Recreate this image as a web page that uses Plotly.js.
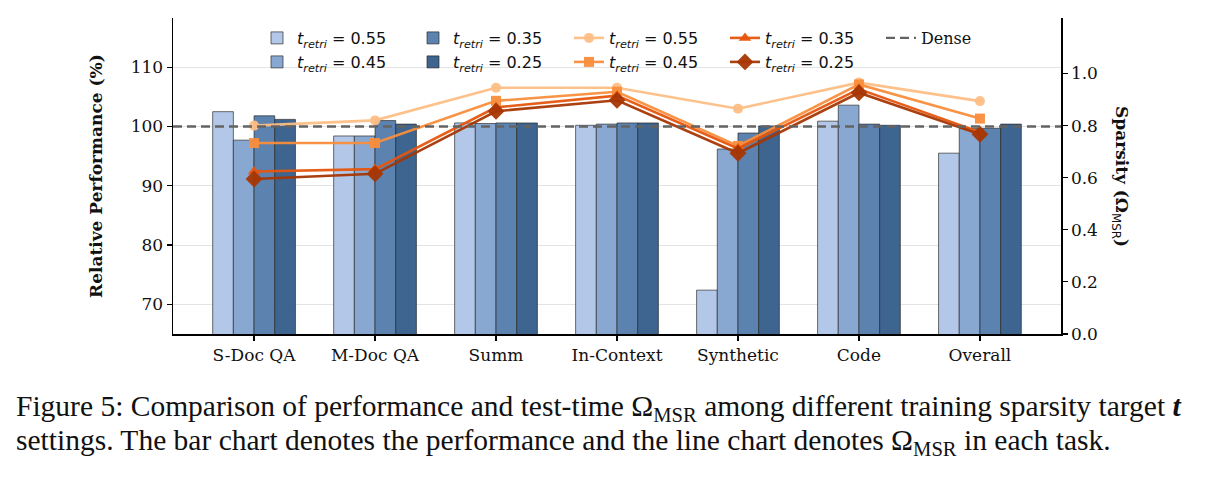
<!DOCTYPE html>
<html>
<head>
<meta charset="utf-8">
<script src="https://cdn.plot.ly/plotly-3.0.1.min.js"></script>
<style>
  html, body { margin: 0; padding: 0; background: #ffffff; }
  #chart { width: 1218px; height: 482px; }
</style>
</head>
<body>
<div id="chart"></div>
<script>
// ---------- data ----------
const CATEGORIES = ['S-Doc QA', 'M-Doc QA', 'Summ', 'In-Context', 'Synthetic', 'Code', 'Overall'];

// Relative performance (%) — bars
const PERF_055 = [102.5, 98.4, 100.6, 100.2, 72.4, 100.9, 95.5];
const PERF_045 = [97.7, 98.4, 100.5, 100.4, 96.2, 103.6, 99.7];
const PERF_035 = [101.8, 101.0, 100.6, 100.6, 98.9, 100.4, 99.7];
const PERF_025 = [101.2, 100.4, 100.6, 100.6, 100.1, 100.2, 100.4];

// Sparsity (Omega_MSR) — lines
const SPARS_055 = [0.80, 0.82, 0.945, 0.945, 0.865, 0.965, 0.894];
const SPARS_045 = [0.733, 0.733, 0.895, 0.930, 0.722, 0.958, 0.827];
const SPARS_035 = [0.624, 0.633, 0.870, 0.915, 0.712, 0.940, 0.775];
const SPARS_025 = [0.595, 0.615, 0.855, 0.897, 0.694, 0.926, 0.767];

const DENSE = 100;
const SETTINGS = ['0.55', '0.45', '0.35', '0.25'];
const LEFT_TICKS = [70, 80, 90, 100, 110];
const RIGHT_TICKS = [0, 0.2, 0.4, 0.6, 0.8, 1.0];

// ---------- styles ----------
const BAR_COLORS = ['#b3c8e8', '#88a8d2', '#5c82b0', '#3e6490'];
const LINE_COLORS = ['rgba(253,190,133,0.95)', 'rgba(249,141,60,0.95)', 'rgba(230,85,13,0.95)', 'rgba(166,54,3,0.95)'];
const SYMBOLS = ['circle', 'square', 'triangle-up', 'diamond'];
const MSIZES = [10, 10, 11, 13];
const SERIF = 'DejaVu Serif, serif';
const SANS = 'DejaVu Sans, sans-serif';

const label = v => '<i>t</i><sub><i>retri</i></sub> = ' + v;

const perf = [PERF_055, PERF_045, PERF_035, PERF_025];
const spars = [SPARS_055, SPARS_045, SPARS_035, SPARS_025];
// legend placement: first row holds 0.55 & 0.35, second row holds 0.45 & 0.25
const legendOf = ['legend', 'legend2', 'legend', 'legend2'];

const traces = [];
perf.forEach((vals, i) => {
  traces.push({
    type: 'bar', x: CATEGORIES, y: vals, name: label(SETTINGS[i]),
    xaxis: 'x', yaxis: 'y',
    marker: { color: BAR_COLORS[i], line: { color: 'rgba(40,40,40,0.85)', width: 0.8 } },
    legend: legendOf[i], legendrank: i < 2 ? 1 : 2,
    hoverinfo: 'x+y'
  });
});
// Dense baseline (performance = 100 %), spans whole width on a hidden overlay x axis
traces.push({
  type: 'scatter', mode: 'lines', x: [0, 1], y: [DENSE, DENSE],
  xaxis: 'x2', yaxis: 'y', name: '<span style="font-family:DejaVu Serif">Dense</span>',
  line: { color: '#636363', width: 2.4, dash: '9px,5px' },
  legend: 'legend', legendrank: 5, hoverinfo: 'skip'
});
spars.forEach((vals, i) => {
  traces.push({
    type: 'scatter', mode: 'lines+markers', x: CATEGORIES, y: vals, name: label(SETTINGS[i]),
    xaxis: 'x', yaxis: 'y2',
    line: { color: LINE_COLORS[i], width: 2.6 },
    marker: { symbol: SYMBOLS[i], size: MSIZES[i], color: LINE_COLORS[i] },
    legend: legendOf[i], legendrank: 3 + (i < 2 ? 0 : 1) + 0.1 * i,
    cliponaxis: false
  });
});

const W = 1218, H = 482;
const M = { l: 173, r: 157, t: 18, b: 148 };
const pw = W - M.l - M.r, ph = H - M.t - M.b;
const px = x => (x - M.l) / pw;
const py = y => (H - M.b - y) / ph;

const legendCommon = {
  orientation: 'h', xref: 'paper', yref: 'paper', xanchor: 'left', yanchor: 'middle',
  bgcolor: 'rgba(0,0,0,0)', borderwidth: 0,
  font: { family: SANS, size: 16, color: '#111' },
  entrywidth: 111, entrywidthmode: 'pixels', traceorder: 'normal',
  itemclick: false, itemdoubleclick: false
};

const layout = {
  width: W, height: H,
  margin: M,
  paper_bgcolor: '#ffffff', plot_bgcolor: '#ffffff',
  barmode: 'group', bargap: 0.316, bargroupgap: 0,
  showlegend: true,
  legend: Object.assign({}, legendCommon, { x: px(257), y: py(38) }),
  legend2: Object.assign({}, legendCommon, { x: px(257), y: py(62) }),
  xaxis: {
    type: 'category', range: [-0.67, 6.67],
    showgrid: false, zeroline: false,
    showline: true, linecolor: '#000', linewidth: 1.5,
    ticks: 'outside', ticklen: 5, tickwidth: 1.2, tickcolor: '#000',
    tickfont: { family: SERIF, size: 17, color: '#111' },
    mirror: false
  },
  xaxis2: {
    overlaying: 'x', range: [0, 1], visible: false, fixedrange: true
  },
  yaxis: {
    range: [65, 118.3],
    tickvals: LEFT_TICKS, ticktext: LEFT_TICKS.map(String),
    showgrid: true, gridcolor: '#e3e3e3', gridwidth: 1,
    zeroline: false,
    showline: true, linecolor: '#000', linewidth: 1.5,
    ticks: 'outside', ticklen: 5, tickwidth: 1.2, tickcolor: '#000',
    tickfont: { family: SERIF, size: 17, color: '#111' }
  },
  yaxis2: {
    overlaying: 'y', side: 'right', range: [0, 1.213],
    tickvals: RIGHT_TICKS, ticktext: RIGHT_TICKS.map(v => v.toFixed(1)),
    showgrid: false, zeroline: false,
    showline: true, linecolor: '#000', linewidth: 1.5,
    ticks: 'outside', ticklen: 5, tickwidth: 1.2, tickcolor: '#000',
    tickfont: { family: SERIF, size: 17, color: '#111' }
  },
  annotations: [
    {
      text: '<b>Relative Performance (%)</b>', textangle: -90,
      xref: 'paper', yref: 'paper', x: px(96), y: py(176), xanchor: 'center', yanchor: 'middle',
      showarrow: false, font: { family: SERIF, size: 17, color: '#111' }
    },
    {
      text: '<b>Sparsity (Ω</b><sub><span style="font-family:DejaVu Sans;font-weight:normal">MSR</span></sub><b>)</b>', textangle: 90,
      xref: 'paper', yref: 'paper', x: px(1121), y: py(176), xanchor: 'center', yanchor: 'middle',
      showarrow: false, font: { family: SERIF, size: 17, color: '#111' }
    },
    {
      text: 'Figure 5: Comparison of performance and test-time Ω<sub>MSR</sub> among different training sparsity target <b><i>t</i></b>',
      xref: 'paper', yref: 'paper', x: px(14), y: py(408), xanchor: 'left', yanchor: 'middle',
      showarrow: false, align: 'left', font: { family: 'Liberation Serif, serif', size: 29.5, color: '#111' }
    },
    {
      text: 'settings. The bar chart denotes the performance and the line chart denotes Ω<sub>MSR</sub> in each task.',
      xref: 'paper', yref: 'paper', x: px(14), y: py(442), xanchor: 'left', yanchor: 'middle',
      showarrow: false, align: 'left', font: { family: 'Liberation Serif, serif', size: 29.5, color: '#111' }
    }
  ]
};

Plotly.newPlot('chart', traces, layout, { displayModeBar: false, staticPlot: true });
</script>
</body>
</html>
